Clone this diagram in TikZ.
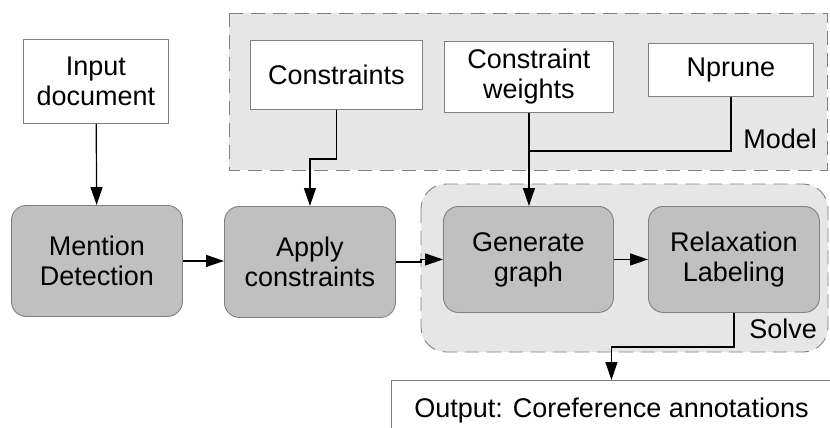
\documentclass[tikz,border=0pt]{standalone}
\usepackage{fontspec}
\setmainfont{Liberation Sans}
\usetikzlibrary{arrows.meta}
\definecolor{regionfill}{HTML}{E6E6E6}
\definecolor{stepfill}{HTML}{C0C0C0}
\definecolor{edgegray}{HTML}{808080}
\tikzset{
  txt/.style={font=\fontsize{27}{30}\selectfont, align=center, inner sep=0pt},
  whitebox/.style={txt, draw=edgegray, line width=0.9pt, fill=white, anchor=north west},
  stepbox/.style={txt, draw=edgegray, line width=0.9pt, fill=stepfill, rounded corners=15pt,
    anchor=north west, minimum width=171pt},
  region/.style={draw=edgegray, line width=0.9pt, fill=regionfill, dash pattern=on 14pt off 8pt},
  arr/.style={draw=black, line width=1.2pt, -{Triangle[length=18pt,width=12pt]}},
  link/.style={draw=black, line width=1.2pt},
}
\begin{document}
\begin{tikzpicture}[x=1pt,y=-1pt]
  \useasboundingbox (0,0) rectangle (830,428);
  \clip (0,0) rectangle (830,428);
  \fill[white] (0,0) rectangle (830,428);

  % grouping regions
  \draw[region] (229,13) rectangle (827,170);
  \draw[region, rounded corners=25pt] (421,184) rectangle (828,352);
  \node[txt, anchor=base east] (modellbl) at (817,148) {Model};
  \node[txt, anchor=base east] (solvelbl) at (817,338) {Solve};

  % inputs and model parameters
  \node[whitebox, minimum width=145pt, minimum height=84pt] (input) at (23,39) {Input\\document};
  \node[whitebox, minimum width=172pt, minimum height=69pt] (cons) at (250,40) {Constraints};
  \node[whitebox, minimum width=169pt, minimum height=71pt] (weights) at (444,41) {Constraint\\weights};
  \node[whitebox, minimum width=165pt, minimum height=53pt] (nprune) at (648,43) {Nprune};

  % processing steps
  \node[stepbox, minimum height=111pt] (mention) at (11,205) {Mention\\Detection};
  \node[stepbox, minimum height=111pt] (apply) at (224,206) {Apply\\constraints};
  \node[stepbox, minimum width=170pt, minimum height=106pt] (gen) at (443,206) {Generate\\graph};
  \node[stepbox, minimum width=171pt, minimum height=106pt] (relax) at (648,206) {Relaxation\\Labeling};

  % output
  \node[whitebox, minimum width=440pt, minimum height=60pt] (output) at (391,380) {Output: Coreference annotations};

  % connectors
  \coordinate (join) at (528.5,151);
  \draw[arr] (input) -- (mention);
  \draw[arr] (cons.south) -- ++(0,49) -| (apply.north);
  \draw[arr] (weights.south) -- (weights.south |- gen.north);
  \draw[link] (nprune.south) |- (join);
  \draw[arr] (apply.east) -- ++(25,0) |- (gen.west);
  \draw[arr] (mention.east) -- (apply.west |- mention.east);
  \draw[arr] (gen.east) -- (relax.west |- gen.east);
  \draw[arr] (relax.south) -- ++(0,34) -| (output.north);
\end{tikzpicture}
\end{document}
